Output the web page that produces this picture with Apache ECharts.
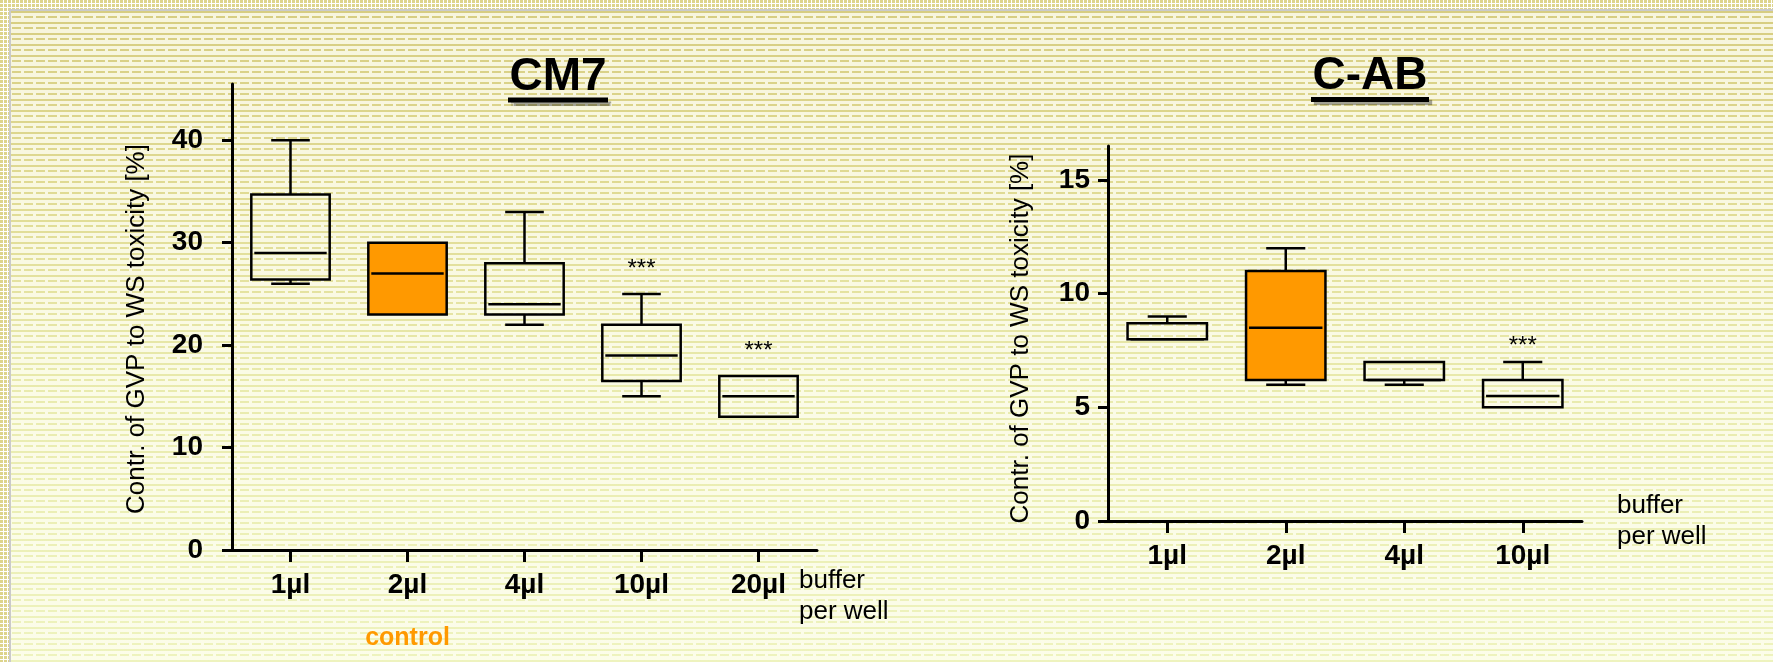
<!DOCTYPE html>
<html>
<head>
<meta charset="utf-8">
<script src="https://cdn.jsdelivr.net/npm/echarts@6/dist/echarts.min.js"></script>
<style>
  html, body { margin: 0; padding: 0; width: 1773px; height: 662px; overflow: hidden; }
  body {
    position: relative;
    background-image:
      url("data:image/svg+xml;utf8,<svg xmlns='http://www.w3.org/2000/svg' width='12' height='11' shape-rendering='crispEdges'><rect x='0' y='2' width='12' height='3' fill='%23FFFFF4' fill-opacity='0.8'/><rect x='0' y='7' width='12' height='4' fill='%23FFFFF4' fill-opacity='0.8'/><rect x='9' y='5' width='3' height='2' fill='%23FFFFF4' fill-opacity='0.8'/></svg>"),
      linear-gradient(180deg, #D6CC80 0%, #E0DB94 30%, #E9EBAE 60%, #EEF3BE 100%);
    background-size: 12px 11px, 100% 100%;
    background-repeat: repeat, no-repeat;
  }
  #frameTop { position: absolute; left: 0; top: 0; width: 1773px; height: 9px;
    background-image: url("data:image/svg+xml;utf8,<svg xmlns='http://www.w3.org/2000/svg' width='4' height='4' shape-rendering='crispEdges'><rect width='4' height='4' fill='%23FFFFFF'/><rect width='3' height='3' fill='%23DDD48C'/></svg>"); }
  #frameLeft { position: absolute; left: 0; top: 0; width: 9px; height: 662px;
    background-image: url("data:image/svg+xml;utf8,<svg xmlns='http://www.w3.org/2000/svg' width='4' height='4' shape-rendering='crispEdges'><rect width='4' height='4' fill='%23FFFFFF'/><rect width='3' height='3' fill='%23DDD48C'/></svg>"); }
  #lineTop { position: absolute; left: 9px; top: 9px; width: 1764px; height: 2px; background: #CACACA; }
  #lineLeft { position: absolute; left: 9px; top: 9px; width: 2px; height: 653px; background: #CACACA; }
  #chart { position: absolute; left: 0; top: 0; width: 1773px; height: 662px; }
</style>
</head>
<body>
<div id="frameTop"></div>
<div id="frameLeft"></div>
<div id="lineTop"></div>
<div id="lineLeft"></div>
<div id="chart"></div>
<script>
// ---------- data ----------
const cm7Categories = ['1µl', '2µl', '4µl', '10µl', '20µl'];
const cm7Min    = [26,   23, 22, 15,   13];
const cm7Q1     = [26.4, 23, 23, 16.5, 13];
const cm7Median = [29,   27, 24, 19,   15];
const cm7Q3     = [34.7, 30, 28, 22,   17];
const cm7Max    = [40,   30, 33, 25,   17];
const cm7Stars  = ['', '', '', '***', '***'];
const cm7YTicks = [0, 10, 20, 30, 40];

const cabCategories = ['1µl', '2µl', '4µl', '10µl'];
const cabMin    = [8,   6,   6,   5];
const cabQ1     = [8,   6.2, 6.2, 5];
const cabMedian = [8,   8.5, 6.2, 5.5];
const cabQ3     = [8.7, 11,  7,   6.2];
const cabMax    = [9,   12,  7,   7];
const cabStars  = ['', '', '', '***'];
const cabYTicks = [0, 5, 10, 15];

const controlCategory = '2µl';
const controlLabel = 'control';
const yTitle = 'Contr. of GVP to WS toxicity [%]';
const xTitle = 'buffer\nper well';
const titles = ['CM7', 'C-AB'];

// ---------- styling ----------
const FONT = '"Liberation Sans", Arial, sans-serif';
const ORANGE = '#FF9900';

function buildData(cats, mn, q1, md, q3, mx) {
  return cats.map((c, i) => [i, mn[i], q1[i], md[i], q3[i], mx[i]]);
}

function makeRender(cats) {
  return function (params, api) {
    const idx = api.value(0);
    const mn = api.value(1), q1 = api.value(2), md = api.value(3), q3 = api.value(4), mx = api.value(5);
    const band = api.size([1, 0])[0];
    const bw = band * 0.67, cw = band * 0.33;
    const pMin = api.coord([idx, mn]);
    const pQ1 = api.coord([idx, q1]);
    const pMd = api.coord([idx, md]);
    const pQ3 = api.coord([idx, q3]);
    const pMax = api.coord([idx, mx]);
    const cx = pMd[0];
    const isCtrl = cats[idx] === controlCategory;
    const ls = { stroke: '#000', lineWidth: 2.5, fill: null };
    const children = [];
    if (mx > q3) {
      children.push({ type: 'line', shape: { x1: cx, y1: pQ3[1], x2: cx, y2: pMax[1] }, style: ls });
      children.push({ type: 'line', shape: { x1: cx - cw / 2, y1: pMax[1], x2: cx + cw / 2, y2: pMax[1] }, style: ls });
    }
    if (mn < q1) {
      children.push({ type: 'line', shape: { x1: cx, y1: pQ1[1], x2: cx, y2: pMin[1] }, style: ls });
      children.push({ type: 'line', shape: { x1: cx - cw / 2, y1: pMin[1], x2: cx + cw / 2, y2: pMin[1] }, style: ls });
    }
    children.push({
      type: 'rect',
      shape: { x: cx - bw / 2, y: pQ3[1], width: bw, height: pQ1[1] - pQ3[1] },
      style: { stroke: '#000', lineWidth: 2.5, fill: isCtrl ? ORANGE : 'rgba(0,0,0,0)' }
    });
    children.push({ type: 'line', shape: { x1: cx - bw / 2 + 3, y1: pMd[1], x2: cx + bw / 2 - 3, y2: pMd[1] }, style: ls });
    return { type: 'group', children: children };
  };
}

function makeStarRender(starsArr, starOffset) {
  return function (params, api) {
    const idx = api.value(0);
    const top = api.value(1);
    const p = api.coord([idx, top]);
    return {
      type: 'text',
      style: {
        x: p[0], y: p[1] - starOffset, text: starsArr[idx],
        font: '24px ' + FONT, fill: '#000',
        textAlign: 'center', textVerticalAlign: 'middle'
      }
    };
  };
}

function xAxisCfg(grid, cats, showControl, nameGap, namePad, nameVA) {
  return {
    type: 'category', gridIndex: grid, data: cats, boundaryGap: true,
    axisLine: { show: true, lineStyle: { color: '#000', width: 3 } },
    axisTick: { show: true, alignWithLabel: true, length: 12, lineStyle: { color: '#000', width: 3 } },
    axisLabel: {
      margin: 18, interval: 0,
      formatter: v => (showControl && v === controlCategory) ? '{b|' + v + '}\n{c|' + controlLabel + '}' : '{b|' + v + '}',
      rich: {
        b: { fontFamily: FONT, fontSize: 28, fontWeight: 'bold', color: '#000', lineHeight: 34 },
        c: { fontFamily: FONT, fontSize: 25, fontWeight: 'bold', color: ORANGE, lineHeight: 72 }
      }
    },
    splitLine: { show: false },
    name: xTitle, nameLocation: 'end', nameGap: nameGap,
    nameTextStyle: { fontFamily: FONT, fontSize: 26, color: '#000', lineHeight: 31, align: 'left', verticalAlign: nameVA, padding: namePad }
  };
}

function yAxisCfg(grid, max, ticks, labelMargin, nameGap, namePad) {
  return {
    type: 'value', gridIndex: grid, min: 0, max: max,
    axisLine: { show: true, lineStyle: { color: '#000', width: 3 } },
    axisTick: { show: true, length: 10, customValues: ticks, lineStyle: { color: '#000', width: 3 } },
    axisLabel: { customValues: ticks, margin: labelMargin, fontFamily: FONT, fontSize: 28, fontWeight: 'bold', color: '#000' },
    splitLine: { show: false },
    name: yTitle, nameLocation: 'middle', nameGap: nameGap,
    nameTextStyle: { fontFamily: FONT, fontSize: 26, color: '#000', padding: namePad }
  };
}

const chart = echarts.init(document.getElementById('chart'), null, { renderer: 'canvas' });

const titleStyle = {
  font: 'bold 46px ' + FONT, fill: '#000', textAlign: 'center', textVerticalAlign: 'middle',
  shadowColor: 'rgba(0,0,0,0.35)', shadowOffsetX: 3, shadowOffsetY: 3, shadowBlur: 1
};
const ulStyle = { fill: '#000', shadowColor: 'rgba(0,0,0,0.35)', shadowOffsetX: 3, shadowOffsetY: 3, shadowBlur: 1 };

const option = {
  backgroundColor: 'transparent',
  animation: false,
  grid: [
    { left: 232, top: 84, width: 585, height: 466 },
    { left: 1108, top: 146, width: 474, height: 375 }
  ],
  xAxis: [
    xAxisCfg(0, cm7Categories, true, -18, [15, 0, 0, 0], 'top'),
    xAxisCfg(1, cabCategories, false, 35, [12, 0, 0, 0], 'middle')
  ],
  yAxis: [
    yAxisCfg(0, 45.5, cm7YTicks, 29, 82, [0, 24, 0, 0]),
    yAxisCfg(1, 16.5, cabYTicks, 18, 74, [0, 10, 0, 0])
  ],
  series: [
    {
      type: 'custom', xAxisIndex: 0, yAxisIndex: 0,
      renderItem: makeRender(cm7Categories),
      data: buildData(cm7Categories, cm7Min, cm7Q1, cm7Median, cm7Q3, cm7Max),
      z: 3
    },
    {
      type: 'custom', xAxisIndex: 0, yAxisIndex: 0,
      renderItem: makeStarRender(cm7Stars, 25),
      data: cm7Categories.map((c, i) => [i, Math.max(cm7Max[i], cm7Q3[i])]),
      z: 4
    },
    {
      type: 'custom', xAxisIndex: 1, yAxisIndex: 1,
      renderItem: makeRender(cabCategories),
      data: buildData(cabCategories, cabMin, cabQ1, cabMedian, cabQ3, cabMax),
      z: 3
    },
    {
      type: 'custom', xAxisIndex: 1, yAxisIndex: 1,
      renderItem: makeStarRender(cabStars, 16),
      data: cabCategories.map((c, i) => [i, Math.max(cabMax[i], cabQ3[i])]),
      z: 4
    }
  ],
  graphic: [
    { type: 'text', x: 558, y: 77, z: 10, style: Object.assign({ text: titles[0] }, titleStyle) },
    { type: 'rect', z: 10, shape: { x: 508, y: 97.5, width: 100, height: 5 }, style: ulStyle },
    { type: 'text', x: 1370, y: 76, z: 10, style: Object.assign({ text: titles[1] }, titleStyle) },
    { type: 'rect', z: 10, shape: { x: 1311, y: 97, width: 118, height: 5 }, style: ulStyle }
  ]
};
chart.setOption(option);
</script>
</body>
</html>
